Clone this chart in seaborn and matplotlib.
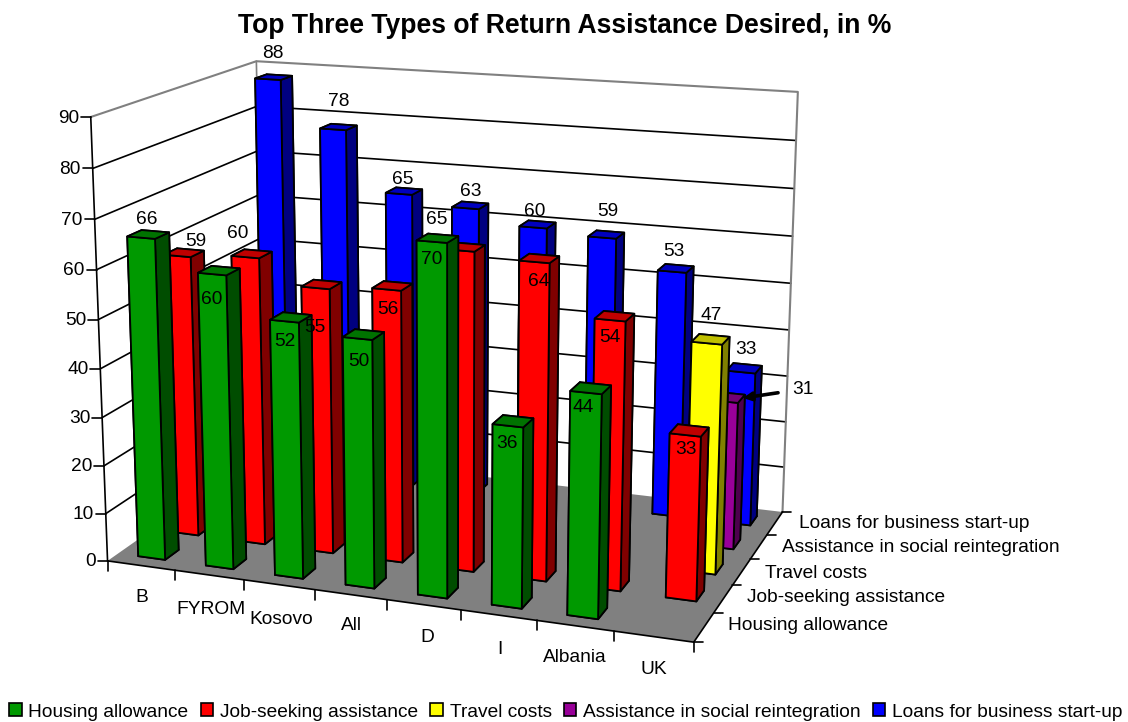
import numpy as np
import matplotlib
matplotlib.use("Agg")
import matplotlib.pyplot as plt
from matplotlib.lines import Line2D
from matplotlib.patches import Patch
from mpl_toolkits.mplot3d.art3d import Poly3DCollection
import seaborn as sns

# ---------- data ----------
title = "Top Three Types of Return Assistance Desired, in %"
categories = ["B", "FYROM", "Kosovo", "All", "D", "I", "Albania", "UK"]
series_names = ["Housing allowance", "Job-seeking assistance", "Travel costs",
                "Assistance in social reintegration", "Loans for business start-up"]
housing = [66, 60, 52, 50, 70, 36, 44, None]
job_seeking = [59, 60, 55, 56, 65, 64, 54, 33]
travel = [None, None, None, None, None, None, None, 47]
social = [None, None, None, None, None, None, None, 31]
loans = [88, 78, 65, 63, 60, 59, 53, 33]
z_ticks = [0, 10, 20, 30, 40, 50, 60, 70, 80, 90]

# ---------- style ----------
sns.set_theme(style="white")
plt.rcParams["font.family"] = ["Liberation Sans", "DejaVu Sans"]
W, H = 1128, 722
front = sns.color_palette(["#009900", "#FF0000", "#FFFF00", "#990099", "#0000FF"])
side = sns.color_palette(["#004D00", "#800000", "#808000", "#4D004D", "#000080"])
top = sns.color_palette(["#007300", "#BF0000", "#BFBF00", "#730073", "#0000BF"])
FS = 13.8

# ---------- camera calibrated on the frame of the 3D box ----------
NX, NY, ZMAX = len(categories), len(series_names), z_ticks[-1]
world = [(0, 0, 0), (0, 0, ZMAX), (0, NY, ZMAX), (NX, NY, ZMAX),
         (NX, NY, 0), (NX, 0, 0), (0, NY, 0)]
image = [(108, 562), (91, 116), (256, 62), (798, 92),
         (783, 512), (693, 642), (264, 450)]
A = []
for (x, y, z), (u, v) in zip(world, image):
    A.append([x, y, z, 1, 0, 0, 0, 0, -u * x, -u * y, -u * z, -u])
    A.append([0, 0, 0, 0, x, y, z, 1, -v * x, -v * y, -v * z, -v])
P = np.linalg.svd(np.array(A, float))[2][-1].reshape(3, 4)
P = P / P[2, 3]
M = np.vstack([P[0], P[1], [0, 0, 0, -1], P[2]])


def px(x, y, z):
    q = P @ np.array([x, y, z, 1.0])
    return q[0] / q[2], q[1] / q[2]


fig = plt.figure(figsize=(W / 100, H / 100), dpi=100, facecolor="white")
ax = fig.add_axes([0, -(W - H) / 2 / H, 1, W / H], projection="3d",
                  computed_zorder=False)
ax.set_axis_off()
ax.patch.set_visible(False)
ax.get_proj = lambda: M


def frame_line(points, color="black", lw=1.2):
    uv = np.array([px(*p) for p in points])
    ax.add_line(Line2D(uv[:, 0], uv[:, 1], color=color, lw=lw, zorder=2,
                       transform=ax.transData, solid_capstyle="round"))


# floor, grid lines and box edges
ax.add_collection3d(Poly3DCollection(
    [[(0, 0, 0), (NX, 0, 0), (NX, NY, 0), (0, NY, 0)]],
    facecolors="#808080", edgecolors="none", zorder=1))
for t in z_ticks[1:-1]:
    frame_line([(0, 0, t), (0, NY, t), (NX, NY, t)])
GREY = "#808080"
frame_line([(0, 0, ZMAX), (0, NY, ZMAX), (NX, NY, ZMAX), (NX, NY, 0)], color=GREY, lw=1.5)
frame_line([(0, NY, 0), (0, NY, ZMAX)], color=GREY)
frame_line([(0, 0, 0), (0, 0, ZMAX)])
frame_line([(0, 0, 0), (NX, 0, 0), (NX, NY, 0)])

# bars, back row first
BAR, GAP = 0.4, 0.3
columns = [housing, job_seeking, travel, social, loans]
order = 10
for s in reversed(range(NY)):
    for i, val in enumerate(columns[s]):
        if val is None:
            continue
        colors = [side[s], top[s], front[s], front[s], side[s], side[s]]
        ax.bar3d(i + GAP, s + GAP, 0, BAR, BAR, val, color=colors, shade=False,
                 edgecolor="black", linewidth=1.3, zorder=order)
        order += 1

# ticks and tick labels
TEXT_DY = 1
for t in z_ticks:
    u, v = px(0, 0, t)
    ax.add_line(Line2D([u - 10, u], [v, v], color="black", lw=1.2, zorder=2,
                       transform=ax.transData))
    ax.text2D(u - 12, v + TEXT_DY, str(t), ha="right", va="center", fontsize=FS,
              transform=ax.transData, color="black")
for i in range(NX + 1):
    u, v = px(i, 0, 0)
    ax.add_line(Line2D([u, u], [v, v + 10], color="black", lw=1.2, zorder=2,
                       transform=ax.transData))
for s in range(NY + 1):
    u, v = px(NX, s, 0)
    ax.add_line(Line2D([u, u + 9], [v, v], color="black", lw=1.2, zorder=2,
                       transform=ax.transData))

cat_label_at = [(142, 597), (211, 608), (281, 618), (351, 625),
                (427, 637), (500, 648), (575, 657), (654, 668)]
for name, (u, v) in zip(categories, cat_label_at):
    ax.text2D(u, v + TEXT_DY, name, ha="center", va="center", fontsize=FS,
              transform=ax.transData, color="black")
ser_label_at = [(728, 625), (747, 597), (765, 572), (782, 547), (799, 522)]
for name, (u, v) in zip(series_names, ser_label_at):
    ax.text2D(u, v + TEXT_DY, name, ha="left", va="center", fontsize=FS,
              transform=ax.transData, color="black")

# value labels
label_at = {
    0: [(147, 219), (212, 298), (285, 340), (359, 361), (432, 259), (507, 442), (583, 407), None],
    1: [(196, 241), (238, 233), (315, 326), (388, 309), (437, 218), (539, 280), (610, 336), (686, 449)],
    2: [None] * 7 + [(711, 315)],
    3: [None] * 8,
    4: [(273, 53), (339, 100), (403, 178), (471, 190), (535, 210), (608, 211), (674, 251), (746, 349)],
}
for s, vals in enumerate(columns):
    for val, pos in zip(vals, label_at[s]):
        if val is not None and pos is not None:
            ax.text2D(pos[0], pos[1] + TEXT_DY, str(val), ha="center", va="center", fontsize=FS,
                      transform=ax.transData, color="black", zorder=100)
ax.annotate(str(social[7]), xy=(743, 398), xytext=(803, 389), xycoords="data",
            textcoords="data", ha="center", va="center", fontsize=FS, color="black",
            zorder=100,
            arrowprops=dict(arrowstyle="-|>", color="black", lw=2.6, mutation_scale=12,
                            shrinkA=8, shrinkB=0))

# title and legend
ax.text2D(565, 26, title, ha="center", va="center", fontsize=19.1, fontweight="bold",
          transform=ax.transData, color="black")
handles = [Patch(facecolor=c, edgecolor="black", linewidth=1.2) for c in front]
fig.legend(handles, series_names, loc="center", ncol=5,
           bbox_to_anchor=(566 / W, 1 - 712 / H), frameon=False, fontsize=FS,
           handlelength=0.65, handleheight=0.65, handletextpad=0.35, columnspacing=0.64,
           labelcolor="black", borderpad=0, borderaxespad=0)

# 2D view window in pixels of the picture
ax.viewLim.intervalx = (0, W)
ax.viewLim.intervaly = (H + (W - H) / 2, -(W - H) / 2)

fig.savefig("out.png", dpi=100, facecolor="white")
